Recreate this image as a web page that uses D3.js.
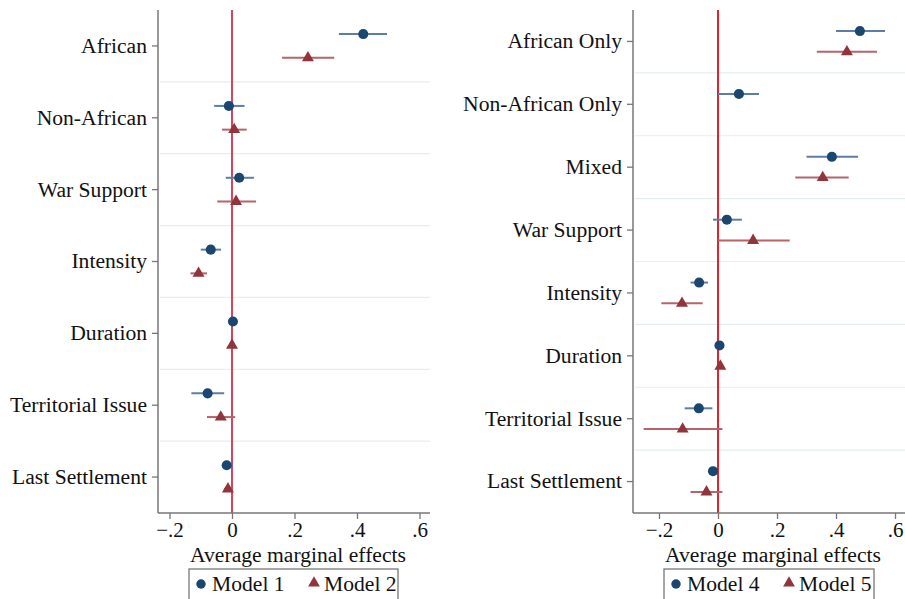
<!DOCTYPE html>
<html>
<head>
<meta charset="utf-8">
<script src="https://cdn.jsdelivr.net/npm/d3@7"></script>
<style>
  body { margin: 0; background: #fff; }
  svg { display: block; }
  text { font-family: "Liberation Serif", "DejaVu Serif", serif; fill: #111; }
</style>
</head>
<body>
<svg id="chart" width="905" height="599"></svg>
<script>
// left panel: Models 1 and 2
const catsA = ["African", "Non-African", "War Support", "Intensity", "Duration", "Territorial Issue", "Last Settlement"];
const m1Est = [0.42, -0.01, 0.023, -0.068, 0.003, -0.078, -0.017];
const m1Lo  = [0.342, -0.057, -0.02, -0.1, -0.003, -0.13, -0.03];
const m1Hi  = [0.496, 0.04, 0.07, -0.035, 0.009, -0.025, 0.003];
const m2Est = [0.243, 0.007, 0.013, -0.107, 0.0, -0.036, -0.013];
const m2Lo  = [0.16, -0.032, -0.047, -0.133, -0.004, -0.08, -0.025];
const m2Hi  = [0.327, 0.047, 0.077, -0.08, 0.004, 0.01, 0.0];

// right panel: Models 4 and 5
const catsB = ["African Only", "Non-African Only", "Mixed", "War Support", "Intensity", "Duration", "Territorial Issue", "Last Settlement"];
const m4Est = [0.481, 0.071, 0.386, 0.03, -0.064, 0.005, -0.065, -0.017];
const m4Lo  = [0.4, 0.0, 0.3, -0.017, -0.093, 0.0, -0.113, -0.026];
const m4Hi  = [0.566, 0.139, 0.475, 0.081, -0.034, 0.01, -0.019, -0.008];
const m5Est = [0.437, null, 0.355, 0.119, -0.122, 0.008, -0.12, -0.039];
const m5Lo  = [0.335, null, 0.262, 0.0, -0.192, 0.003, -0.252, -0.093];
const m5Hi  = [0.539, null, 0.443, 0.243, -0.052, 0.013, 0.015, 0.015];

const xTicks = [-0.2, 0, 0.2, 0.4, 0.6];
const xTitle = "Average marginal effects";

const blue = "#1a476f", blueCI = "#5a7ea5";
const red = "#90353b", redCI = "#b8636a";

const svg = d3.select("#chart");

const fmt = v => v === 0 ? "0" : String(v).replace("0.", ".").replace("-", "\u2212");

function zip(cats, est, lo, hi) {
  return cats.map((c, i) => ({cat: c, est: est[i], lo: lo[i], hi: hi[i]}))
    .filter(d => d.est != null);
}

function drawPanel(p) {
  const g = svg.append("g");
  const top = 10, bottom = 513;

  const x = d3.scaleLinear().domain([-0.2, 0.6]).range([p.x02, p.x06]);
  const y = d3.scaleBand().domain(p.cats).range([top, bottom]);
  const off = y.bandwidth() * 0.165;
  const yc = c => y(c) + y.bandwidth() / 2;

  // grid lines between categories
  g.selectAll(".grid")
    .data(p.cats.slice(1))
    .enter().append("line")
    .attr("x1", p.left + 2).attr("x2", p.right)
    .attr("y1", d => y(d)).attr("y2", d => y(d))
    .attr("stroke", "#e6edf1").attr("stroke-width", 1.2);

  // zero line
  g.append("line")
    .attr("x1", x(0)).attr("x2", x(0))
    .attr("y1", top).attr("y2", bottom)
    .attr("stroke", p.zeroColor).attr("stroke-width", 2);

  // axes
  const xa = g.append("g")
    .attr("transform", `translate(0,${bottom})`)
    .call(d3.axisBottom(x).tickValues(xTicks).tickFormat(fmt).tickSize(6).tickSizeOuter(0));
  xa.select(".domain").remove();
  xa.selectAll("line").attr("stroke", "#777").attr("stroke-width", 1.3);
  xa.selectAll("text").attr("font-size", 21).attr("fill", "#111")
    .attr("font-family", "Liberation Serif")
    .attr("dy", null).attr("y", 24);

  const ya = g.append("g")
    .attr("transform", `translate(${p.left},0)`)
    .call(d3.axisLeft(y).tickSize(6).tickPadding(5));
  ya.select(".domain").remove();
  ya.selectAll("line").attr("stroke", "#777").attr("stroke-width", 1.3);
  ya.selectAll("text").attr("font-size", 21.6).attr("fill", "#111")
    .attr("font-family", "Liberation Serif");

  g.append("line").attr("x1", p.left).attr("x2", p.left)
    .attr("y1", top).attr("y2", bottom).attr("stroke", "#777").attr("stroke-width", 1.5);
  g.append("line").attr("x1", p.left).attr("x2", p.right)
    .attr("y1", bottom).attr("y2", bottom).attr("stroke", "#777").attr("stroke-width", 1.5);

  g.append("text")
    .attr("x", (p.left + p.right) / 2 + p.titleShift).attr("y", 562)
    .attr("text-anchor", "middle").attr("font-size", 21.6)
    .text(xTitle);

  // series
  const series = [
    {data: p.s1, dy: -off, col: blue, ci: blueCI, shape: d3.symbolCircle, size: 80},
    {data: p.s2, dy: off, col: red, ci: redCI, shape: d3.symbolTriangle, size: 62}
  ];
  series.forEach(s => {
    g.selectAll(null).data(s.data).enter().append("line")
      .attr("x1", d => x(d.lo)).attr("x2", d => x(d.hi))
      .attr("y1", d => yc(d.cat) + s.dy).attr("y2", d => yc(d.cat) + s.dy)
      .attr("stroke", s.ci).attr("stroke-width", 2);
    g.selectAll(null).data(s.data).enter().append("path")
      .attr("d", d3.symbol().type(s.shape).size(s.size))
      .attr("transform", d => `translate(${x(d.est)},${yc(d.cat) + s.dy})`)
      .attr("fill", s.col);
  });

  // legend
  const lg = g.append("g").attr("transform", `translate(${p.legX},569)`);
  lg.append("rect").attr("x", 0).attr("y", 0).attr("width", p.legW).attr("height", 45)
    .attr("fill", "#fff").attr("stroke", "#777").attr("stroke-width", 1.3);
  lg.append("path").attr("d", d3.symbol().type(d3.symbolCircle).size(70)())
    .attr("transform", "translate(12,15)").attr("fill", blue);
  lg.append("text").attr("x", 23).attr("y", 22).attr("font-size", 21.6).text(p.names[0]);
  lg.append("path").attr("d", d3.symbol().type(d3.symbolTriangle).size(60)())
    .attr("transform", "translate(125,14)").attr("fill", red);
  lg.append("text").attr("x", 135).attr("y", 22).attr("font-size", 21.6).text(p.names[1]);
}

drawPanel({
  cats: catsA, left: 158, right: 430, x02: 169.5, x06: 419.5,
  s1: zip(catsA, m1Est, m1Lo, m1Hi), s2: zip(catsA, m2Est, m2Lo, m2Hi),
  zeroColor: "#d9435f", legX: 189, legW: 209, names: ["Model 1", "Model 2"], titleShift: 4
});

drawPanel({
  cats: catsB, left: 633, right: 905, x02: 659, x06: 895,
  s1: zip(catsB, m4Est, m4Lo, m4Hi), s2: zip(catsB, m5Est, m5Lo, m5Hi),
  zeroColor: "#e2232f", legX: 664, legW: 210, names: ["Model 4", "Model 5"], titleShift: 4
});
</script>
</body>
</html>
